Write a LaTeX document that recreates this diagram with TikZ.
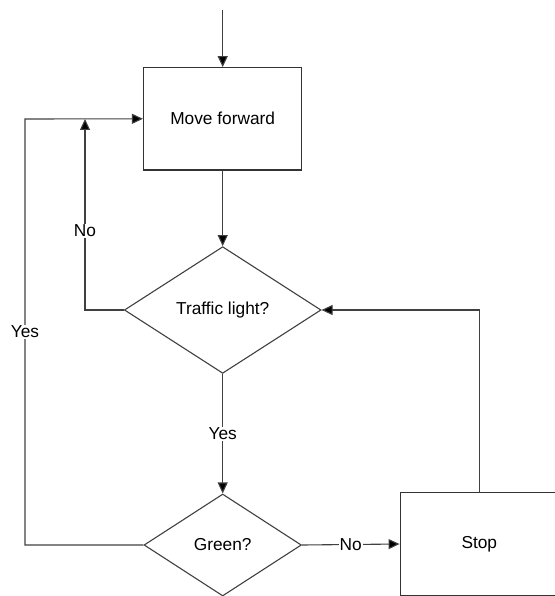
\documentclass[tikz,border=0pt]{standalone}
\usepackage{fontspec}
\setmainfont{Liberation Sans}
\usetikzlibrary{shapes.geometric,arrows.meta}
\begin{document}
\begin{tikzpicture}[x=1pt,y=-1pt,
  every node/.style={font=\fontsize{17.3}{20}\selectfont},
  procbox/.style={draw=black!80, line width=1.1pt, rectangle, minimum width=158.4pt, minimum height=102.3pt, inner sep=0pt},
  decbox/.style={draw=black!75, line width=1.1pt, diamond, aspect=1, inner sep=0pt},
  flow/.style={draw=black!75, line width=1.1pt, -{Triangle[length=11pt,width=10pt,fill=black]}},
  lbl/.style={fill=white, inner sep=1pt}
]
\useasboundingbox (0,0) rectangle (554,596);
\coordinate (start) at (222.7,10);
\node[procbox] (mf) at (222.7,118.8) {Move forward};
\node[decbox, minimum width=196.7pt, minimum height=126.7pt] (tl) at (222.7,310) {Traffic light?};
\node[decbox, minimum width=157.4pt, minimum height=102pt] (gr) at (222.7,545) {Green?};
\node[procbox] (stop) at (479.3,544) {Stop};
\coordinate (nocorner) at (85,310);
\coordinate (nojoin) at (85,119);
\coordinate (yesbottom) at (25,545);
\coordinate (yestop) at (25,119);
\coordinate (stopcorner) at (479.3,310);

\draw[flow] (start) -- (mf.north);
\draw[flow] (mf.south) -- (tl.north);
\draw[flow] (tl.west) -- (nocorner) -- node[lbl, pos=0.414] {No} (nojoin);
\draw[flow] (gr.west) -- (yesbottom) -- node[lbl] {Yes} (yestop) -- (mf.west);
\draw[flow] (tl.south) -- node[lbl] {Yes} (gr.north);
\draw[flow] (gr.east) -- node[lbl] {No} (stop.west);
\draw[flow] (stop.north) -- (stopcorner) -- (tl.east);
\end{tikzpicture}
\end{document}
